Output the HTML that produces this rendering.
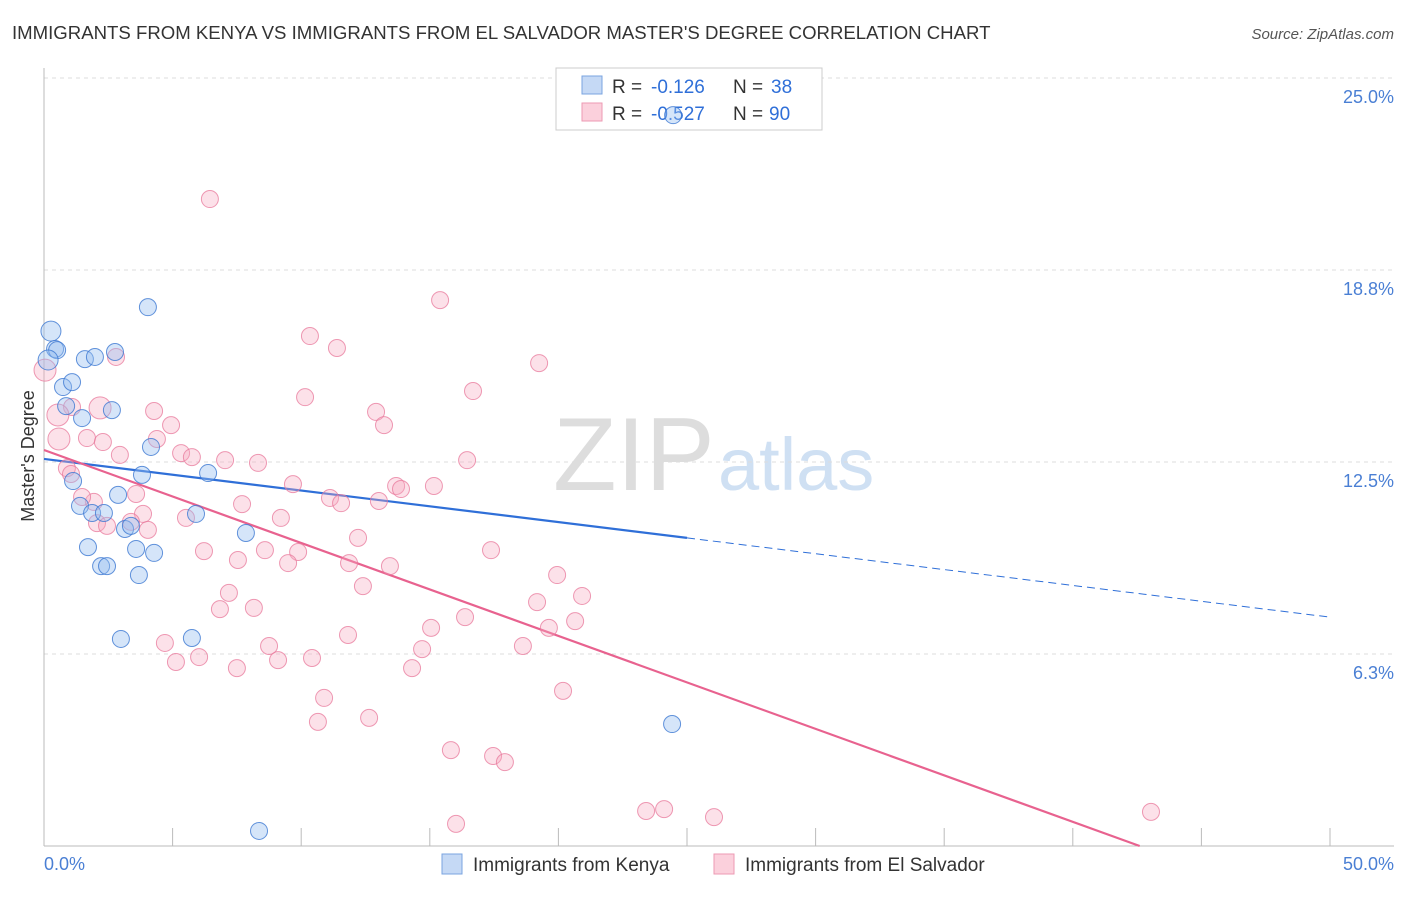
<!DOCTYPE html>
<html><head><meta charset="utf-8"><style>
body{margin:0;background:#fff;font-family:"Liberation Sans",sans-serif;}
svg text{font-family:"Liberation Sans",sans-serif;}
</style></head><body>
<svg id="chart" width="1406" height="892" viewBox="0 0 1406 892" xmlns="http://www.w3.org/2000/svg">
<text x="12" y="39" font-size="18.6" fill="#333">IMMIGRANTS FROM KENYA VS IMMIGRANTS FROM EL SALVADOR MASTER'S DEGREE CORRELATION CHART</text>
<text x="1394" y="39" font-size="15" fill="#555" text-anchor="end" font-style="italic">Source: ZipAtlas.com</text>
<g>
<text x="553" y="490" font-size="104" fill="#ddd" font-family="Liberation Serif,serif">ZIP</text>
<text x="718" y="490" font-size="74" fill="#cfe0f3">atlas</text>
</g>
<g id="grid"></g>
<g>
<rect x="556" y="68" width="266" height="62" fill="#fff" stroke="#ccc"/>
<rect x="582" y="76" width="20" height="18" fill="#c5d9f5" stroke="#7aa4e0"/>
<rect x="582" y="103" width="20" height="18" fill="#fbd0dc" stroke="#ec9ab3"/>
<text x="612" y="93" font-size="19" fill="#333">R =</text>
<text x="651" y="93" font-size="19" fill="#2f6fd8">-0.126</text>
<text x="733" y="93" font-size="19" fill="#333">N =</text>
<text x="771" y="93" font-size="19" fill="#2f6fd8">38</text>
<text x="612" y="120" font-size="19" fill="#333">R =</text>
<text x="651" y="120" font-size="19" fill="#2f6fd8">-0.527</text>
<text x="733" y="120" font-size="19" fill="#333">N =</text>
<text x="769" y="120" font-size="19" fill="#2f6fd8">90</text>
</g>
<g id="axes"></g>
<g id="lines"></g>
<g id="pts"></g>
<text transform="translate(34,456) rotate(-90)" font-size="18" fill="#333" text-anchor="middle">Master's Degree</text>
<text x="44" y="870" font-size="18" fill="#4a7fd4">0.0%</text>
<text x="1394" y="870" font-size="18" fill="#4a7fd4" text-anchor="end">50.0%</text>
<g>
<rect x="442" y="854" width="20" height="20" fill="#c5d9f5" stroke="#7aa4e0"/>
<text x="473" y="871" font-size="19" fill="#333">Immigrants from Kenya</text>
<rect x="714" y="854" width="20" height="20" fill="#fbd0dc" stroke="#ec9ab3"/>
<text x="745" y="871" font-size="19" fill="#333">Immigrants from El Salvador</text>
</g>
</svg>
<script>
const yTicks=[6.25,12.5,18.75,25];
const yTickLabels=["6.3%","12.5%","18.8%","25.0%"];
const xTicks=[0,5,10,15,20,25,30,35,40,45,50];
const kenyaX=[0.27,0.43,0.51,1.59,1.98,2.76,4.04,0.74,1.09,0.86,1.48,2.64,4.16,3.81,6.38,1.13,1.40,2.88,1.87,2.33,3.15,3.38,5.91,1.71,3.58,4.28,7.85,2.22,2.45,3.69,2.99,5.75,24.42,8.36,24.46,0.16];
const kenyaY=[16.76,16.18,16.14,15.85,15.92,16.08,17.54,14.94,15.10,14.32,13.93,14.19,12.99,12.08,12.14,11.88,11.07,11.43,10.84,10.84,10.32,10.42,10.81,9.73,9.67,9.54,10.19,9.11,9.11,8.82,6.74,6.77,3.97,0.49,23.79,15.82];
const salvX=[6.45,15.40,10.34,11.39,19.25,2.80,16.68,10.15,12.91,13.22,4.28,4.94,1.09,2.18,0.54,0.58,1.67,2.29,4.39,2.95,5.33,5.75,7.04,8.32,9.68,11.12,11.55,13.02,13.69,13.88,15.16,16.45,0.89,1.05,1.94,1.48,3.58,2.06,2.45,3.85,4.04,3.38,5.52,7.70,9.21,6.22,7.54,8.59,9.88,9.49,11.86,12.21,13.45,12.40,17.38,19.95,20.92,7.19,8.16,6.84,19.17,16.37,19.63,20.65,15.05,11.82,4.70,8.75,6.03,5.13,9.10,10.42,7.50,14.31,14.70,18.62,20.18,10.89,10.65,12.64,15.82,17.46,17.92,16.02,23.41,24.11,26.05,43.04,0.04];
const salvY=[21.06,17.77,16.60,16.21,15.72,15.92,14.81,14.61,14.13,13.70,14.16,13.70,14.29,14.26,14.03,13.25,13.28,13.15,13.25,12.73,12.79,12.66,12.56,12.47,11.78,11.33,11.16,11.23,11.72,11.62,11.72,12.56,12.30,12.11,11.20,11.36,11.46,10.51,10.42,10.81,10.29,10.55,10.68,11.13,10.68,9.60,9.31,9.63,9.57,9.21,9.21,10.03,9.11,8.46,9.63,8.82,8.14,8.24,7.75,7.71,7.94,7.45,7.10,7.32,7.10,6.87,6.61,6.51,6.15,5.99,6.05,6.12,5.79,5.79,6.41,6.51,5.05,4.82,4.04,4.17,3.12,2.93,2.73,0.72,1.14,1.20,0.94,1.11,15.49];
const kenyaTrend=[12.60,10.03,7.45];
const salvTrend=[12.89,0];
const salvTrendEndX=42.6;
const X=v=>44+v/50*1286, Y=v=>846-v/25*768;
const NS="http://www.w3.org/2000/svg";
function mk(p,t,a){const e=document.createElementNS(NS,t);for(const k in a)e.setAttribute(k,a[k]);p.appendChild(e);return e;}
const grid=document.getElementById('grid'),axes=document.getElementById('axes'),lines=document.getElementById('lines'),pts=document.getElementById('pts');
yTicks.forEach((t,i)=>{
 const l=mk(grid,'line',{x1:44,x2:1394,y1:Y(t),y2:Y(t),stroke:'#ddd','stroke-dasharray':'4,4'});
 
 
 const tx=mk(axes,'text',{x:1394,y:Y(t)+25,'font-size':18,fill:'#4a7fd4','text-anchor':'end'});
 tx.textContent=yTickLabels[i];
 
 
});
const ax=mk(axes,'line',{x1:44,x2:44,y1:68,y2:846,stroke:'#bbb'});


const bx=mk(axes,'line',{x1:44,x2:1394,y1:846,y2:846,stroke:'#bbb'});


xTicks.forEach(t=>{
 const l=mk(axes,'line',{x1:X(t),x2:X(t),y1:828,y2:846,stroke:'#bbb'});
 
 
});
salvX.forEach((x,i)=>{
 const c=mk(pts,'circle',{cx:X(x),cy:Y(salvY[i]),r:(i>=13&&i<=15)||i==88?11:8.5,fill:'rgba(246,170,192,0.35)',stroke:'rgba(232,120,155,0.75)','stroke-width':1});
 
 
});
kenyaX.forEach((x,i)=>{
 const c=mk(pts,'circle',{cx:X(x),cy:Y(kenyaY[i]),r:i==0||i==35?10:8.5,fill:'rgba(150,190,240,0.4)',stroke:'rgba(60,120,210,0.8)','stroke-width':1});
 
 
});
const b1=mk(lines,'line',{x1:X(0),y1:Y(kenyaTrend[0]),x2:X(25),y2:Y(kenyaTrend[1]),stroke:'#2f6fd8','stroke-width':2.2});


const b2=mk(lines,'line',{x1:X(25),y1:Y(kenyaTrend[1]),x2:X(50),y2:Y(kenyaTrend[2]),stroke:'#2f6fd8','stroke-width':1,'stroke-dasharray':'8,5'});


const p1=mk(lines,'line',{x1:X(0),y1:Y(salvTrend[0]),x2:X(salvTrendEndX),y2:Y(salvTrend[1]),stroke:'#e8628f','stroke-width':2.2});


</script>
</body></html>
